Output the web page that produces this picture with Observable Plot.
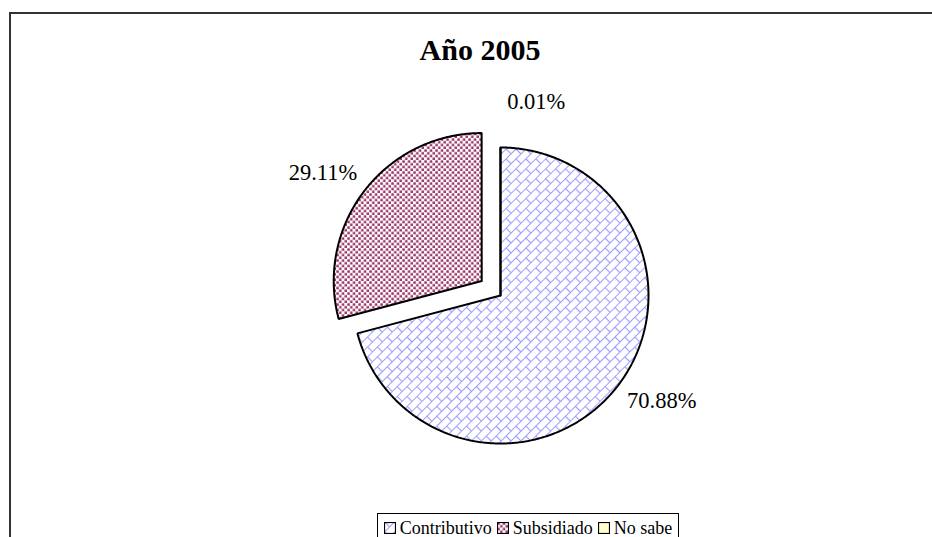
<!DOCTYPE html>
<html><head><meta charset="utf-8">
<script src="https://cdn.jsdelivr.net/npm/d3@7"></script>
<script src="https://cdn.jsdelivr.net/npm/@observablehq/plot@0.6"></script>
<style>
html,body{margin:0;padding:0;background:#fff;}
#wrap{position:relative;width:932px;height:537px;overflow:hidden;font-family:"Liberation Serif","Times New Roman",serif;color:#000;}
#chart{position:absolute;left:0;top:0;}
#frame{position:absolute;left:9px;top:12px;width:1000px;height:1000px;border-left:2px solid #333;border-top:2px solid #333;pointer-events:none;}
#title{position:absolute;left:0;width:960px;top:33px;text-align:center;font-weight:bold;font-size:30px;line-height:34px;}
#legend{position:absolute;left:377px;top:513px;width:302px;height:40px;border:1px solid #000;background:#fff;display:flex;justify-content:center;align-items:flex-start;gap:5px;padding-top:6px;font-size:18px;line-height:16px;box-sizing:border-box;}
#legend .it{display:flex;align-items:center;white-space:nowrap;}
#legend svg{margin-right:4px;}
</style>
</head><body>
<svg width="0" height="0" style="position:absolute">
  <defs>
    <pattern id="pat0" width="14" height="14" patternUnits="userSpaceOnUse" patternTransform="rotate(-45)">
      <rect width="14" height="14" fill="#fff"/>
      <path d="M0,0.5H14M0,7.5H14M0.5,0.5V7.5M7.5,7.5V14.5" stroke="#9d9dff" stroke-width="1.2" fill="none"/>
    </pattern>
    <pattern id="pat1" width="5.5" height="5.5" patternUnits="userSpaceOnUse">
      <rect width="5.5" height="5.5" fill="#fff"/>
      <rect x="0.3" y="0.3" width="2.5" height="2.5" fill="#993366"/>
      <rect x="3.05" y="3.05" width="2.5" height="2.5" fill="#993366"/>
    </pattern>
    <pattern id="pat2" width="6" height="6" patternUnits="userSpaceOnUse">
      <rect width="6" height="6" fill="#ffffcc"/>
    </pattern>
  </defs>
</svg>
<div id="wrap">
  <div id="chart"></div>
  <div id="frame"></div>
  <div id="title">Año 2005</div>
  <div id="legend"></div>
</div>
<script>
const categories = ["Contributivo", "Subsidiado", "No sabe"];
const values = [70.88, 29.11, 0.01];
const labels = ["70.88%", "29.11%", "0.01%"];

// layout settings (not data)
const explodeBy = [0, 0.16, 0];
const labelDist = [1.30, 1.30, 1.33];
const labelTurnDeg = [-4.5, -3.2, 10.5];
const fills = ["url(#pat0)", "url(#pat1)", "url(#pat2)"];

const R = 148; // pixel radius of the pie
const arcs = d3.pie().sort(null).startAngle(0).endAngle(2 * Math.PI)(values);

const pts = [];
const labelRows = [];
arcs.forEach((a, i) => {
  const mid = (a.startAngle + a.endAngle) / 2;
  const cx = explodeBy[i] * Math.sin(mid), cy = explodeBy[i] * Math.cos(mid);
  pts.push({s: i, x: cx, y: cy});
  const n = Math.max(2, Math.ceil((a.endAngle - a.startAngle) / 0.01));
  for (let k = 0; k <= n; k++) {
    const t = a.startAngle + (a.endAngle - a.startAngle) * k / n;
    pts.push({s: i, x: cx + Math.sin(t), y: cy + Math.cos(t)});
  }
  pts.push({s: i, x: cx, y: cy});
  const la = mid + labelTurnDeg[i] * Math.PI / 180;
  labelRows.push({s: i, x: cx + labelDist[i] * Math.sin(la), y: cy + labelDist[i] * Math.cos(la), text: labels[i]});
});

const marks = [];
categories.forEach((c, i) => {
  marks.push(Plot.line(pts.filter(p => p.s === i), {
    x: "x", y: "y", fill: fills[i], stroke: "#000", strokeWidth: 2,
    strokeLinejoin: "miter", curve: "linear"
  }));
});
marks.push(Plot.text(labelRows, {
  x: "x", y: "y", text: "text", textAnchor: "middle", lineAnchor: "middle",
  fontFamily: "Liberation Serif", fontSize: 22.5, fill: "#000"
}));

const chart = Plot.plot({
  width: 932, height: 537, margin: 0,
  x: {domain: [-500 / R, 432 / R], axis: null},
  y: {domain: [-242 / R, 295 / R], axis: null},
  marks
});
document.getElementById("chart").appendChild(chart);

const leg = document.getElementById("legend");
categories.forEach((c, i) => {
  const it = document.createElement("span");
  it.className = "it";
  it.innerHTML = `<svg width="12" height="12"><rect x="0.5" y="0.5" width="11" height="11" fill="${fills[i]}" stroke="#000" stroke-width="1.2"/></svg>${c}`;
  leg.appendChild(it);
});
</script>
</body></html>
